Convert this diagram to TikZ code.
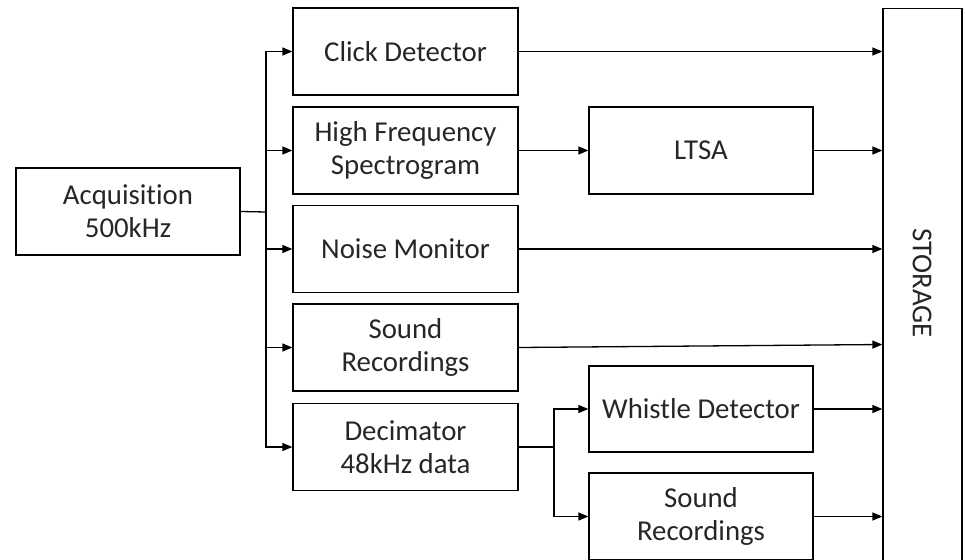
\documentclass[tikz,border=0pt]{standalone}
\usepackage{fontspec}
\setmainfont[Ligatures={NoCommon}]{Carlito}
\usetikzlibrary{arrows.meta}
\begin{document}
\begin{tikzpicture}[x=1pt,y=-1pt,
  blk/.style={draw=black,line width=1.3pt,minimum width=225pt,minimum height=87pt,inner sep=0pt,
    align=center,font=\fontsize{28.8}{33}\selectfont,text=black!85},
  conn/.style={line width=1.3pt,-{Triangle[length=10pt,width=8pt]}},
  wire/.style={line width=1.3pt}]
\useasboundingbox (0,0) rectangle (965,559);
\begin{scope}
\clip (0,0) rectangle (965,559);
\node[blk,minimum width=224pt] (acq) at (128,211.5) {Acquisition\\500kHz};
\node[blk] (click) at (405.5,51.5) {Click Detector};
\node[blk] (hf) at (405.5,150.5) {High Frequency\\Spectrogram};
\node[blk] (nm) at (405.5,249) {Noise Monitor};
\node[blk] (sr) at (405.5,347.5) {Sound\\Recordings};
\node[blk] (dec) at (405.5,447) {Decimator\\48kHz data};
\node[blk,minimum width=224pt] (ltsa) at (701,150.5) {LTSA};
\node[blk,minimum width=224pt,minimum height=86pt] (wd) at (701,409) {Whistle Detector};
\node[blk,minimum width=224pt] (sr2) at (701,516.5) {Sound\\Recordings};
\node[draw=black,line width=1.3pt,minimum width=79pt,minimum height=600pt,inner sep=0pt,anchor=north] (st) at (922.5,8) {};
\node[font=\fontsize{28.8}{33}\selectfont,text=black!85,rotate=-90] (stl) at (922,283) {STORAGE};

\coordinate (bus) at (266,212);
\coordinate (split) at (554,447);
\draw[wire] (acq.east) -- (bus);
\draw[conn] (bus) |- (click.west);
\draw[conn] (bus) |- (hf.west);
\draw[conn] (bus) |- (nm.west);
\draw[conn] (bus) |- (sr.west);
\draw[conn] (bus) |- (dec.west);

\draw[conn] (click.east) -- (click.east -| st.west);
\draw[conn] (hf.east) -- (ltsa.west);
\draw[conn] (ltsa.east) -- (ltsa.east -| st.west);
\draw[conn] (nm.east) -- (nm.east -| st.west);
\draw[conn] (sr.east) -- ([yshift=3pt]sr.east -| st.west);
\draw[wire] (dec.east) -- (split);
\draw[conn] (split) |- (wd.west);
\draw[conn] (split) |- (sr2.west);
\draw[conn] (wd.east) -- (wd.east -| st.west);
\draw[conn] (sr2.east) -- (sr2.east -| st.west);
\end{scope}
\end{tikzpicture}
\end{document}
